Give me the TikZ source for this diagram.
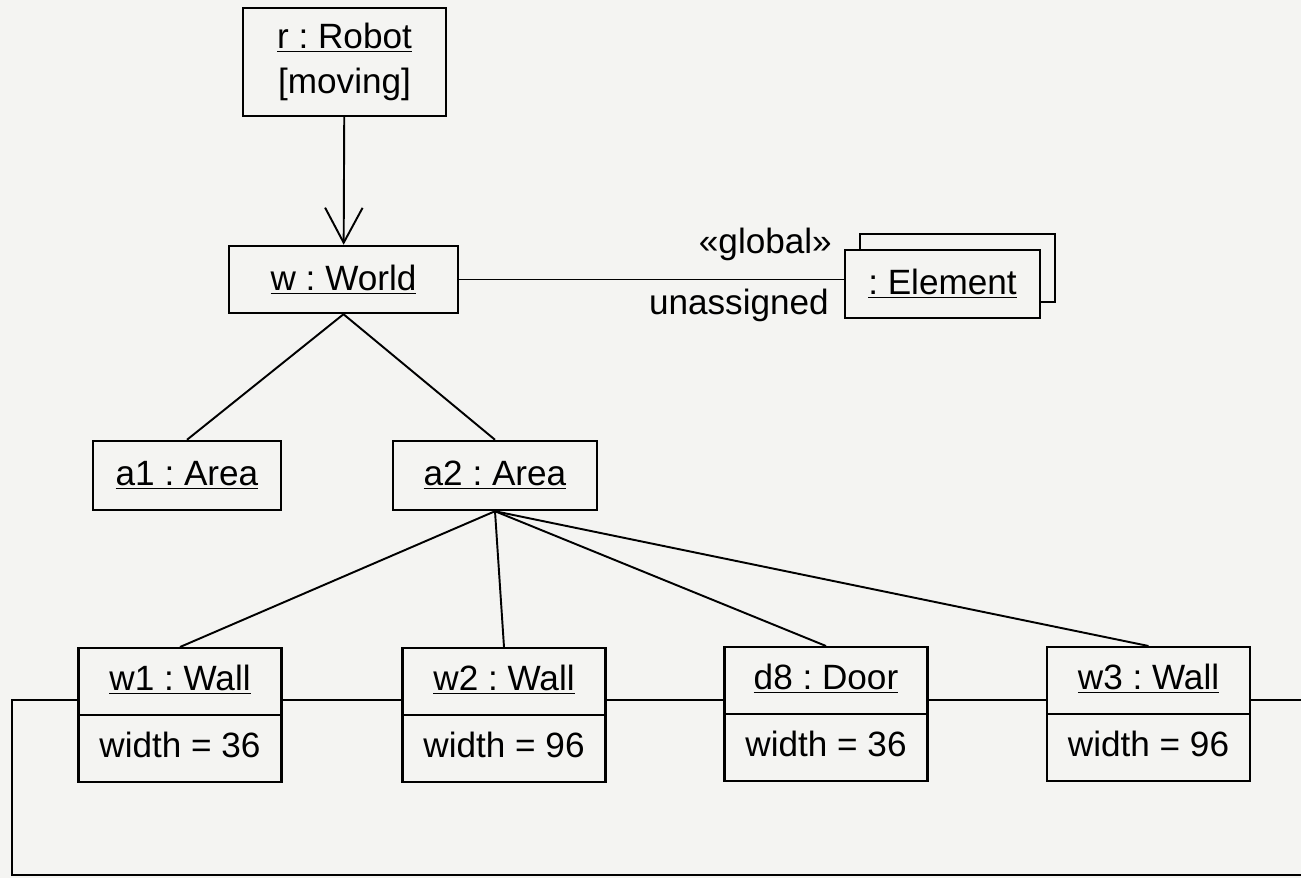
\documentclass[tikz,border=0pt]{standalone}
\usepackage{fontspec}
\setmainfont{Liberation Sans}
\usetikzlibrary{
    arrows.meta,
    shapes.multipart
}
\definecolor{paper}{RGB}{244,244,242}
\newcommand{\uname}[1]{\underline{#1}}
\newcommand{\tstrut}{\rule[-5pt]{0pt}{20pt}}
\frenchspacing

\begin{document}
\begin{tikzpicture}[x=0.02cm, y=-0.02cm,
    obj/.style={draw, line width=1.4pt, fill=paper, inner sep=0pt,
        font=\fontsize{20}{24}\selectfont},
    slot/.style={obj, rectangle split, rectangle split parts=2,
        minimum width=4.06cm, inner ysep=8.3pt, anchor=north},
    link/.style={line width=1.1pt}]

% Page
\useasboundingbox (0,0) rectangle (1301,878);
\clip (0,0) rectangle (1301,878);
\fill[paper] (0,0) rectangle (1301,878);

% Robot and world
\node[obj, minimum width=4.06cm, minimum height=2.16cm, align=center] (robot) at (344.5,62)
    {\uname{r : Robot}\\[2pt] [moving]};
\node[obj, minimum width=4.58cm, minimum height=1.34cm] (world) at (343.5,279.5) {\uname{w : World}};

% Element (multiple objects)
\node[obj, minimum width=3.9cm, minimum height=1.36cm] (elback) at (957.5,268) {};
\node[obj, minimum width=3.9cm, minimum height=1.36cm] (el) at (942.5,284) {\uname{: Element}};

% Areas
\node[obj, minimum width=3.76cm, minimum height=1.38cm] (a1) at (187,475.5) {\uname{a1 : Area}};
\node[obj, minimum width=4.08cm, minimum height=1.38cm] (a2) at (495,475.5) {\uname{a2 : Area}};

% Walls and door
\node[slot] (w1) at (180,647) {\tstrut\uname{w1 : Wall}\nodepart{two}\tstrut width = 36};
\node[slot] (w2) at (504,647) {\tstrut\uname{w2 : Wall}\nodepart{two}\tstrut width = 96};
\node[slot] (d8) at (826,646) {\tstrut\uname{d8 : Door}\nodepart{two}\tstrut width = 36};
\node[slot] (w3) at (1148.5,646) {\tstrut\uname{w3 : Wall}\nodepart{two}\tstrut width = 96};

% Links
\draw[link, -{Straight Barb[length=0.7cm, width=0.75cm]}] (robot) -- (world);
\draw[link] (world.east) -- (world.east -| el.west);
\node[anchor=east, font=\fontsize{20}{24}\selectfont] at (838,244) {«global»};
\node[anchor=east, font=\fontsize{20}{24}\selectfont] at (835,305) {unassigned};

\draw[link] (world.south) -- (a1.north);
\draw[link] (world.south) -- (a2.north);
\foreach \n in {w1, w2, d8, w3}
    \draw[link] (a2.south) -- (\n.north);

% Wall chain
\coordinate (lp) at (0,700);
\coordinate (bl) at (12,875);
\coordinate (br) at (1320,875);
\foreach \a/\b in {w1/w2, w2/d8, d8/w3}
    \draw[link] (\a.east |- lp) -- (\b.west |- lp);
\draw[link] (w1.west |- lp) -| (bl) -- (br) |- (w3.east |- lp);

\end{tikzpicture}
\end{document}
